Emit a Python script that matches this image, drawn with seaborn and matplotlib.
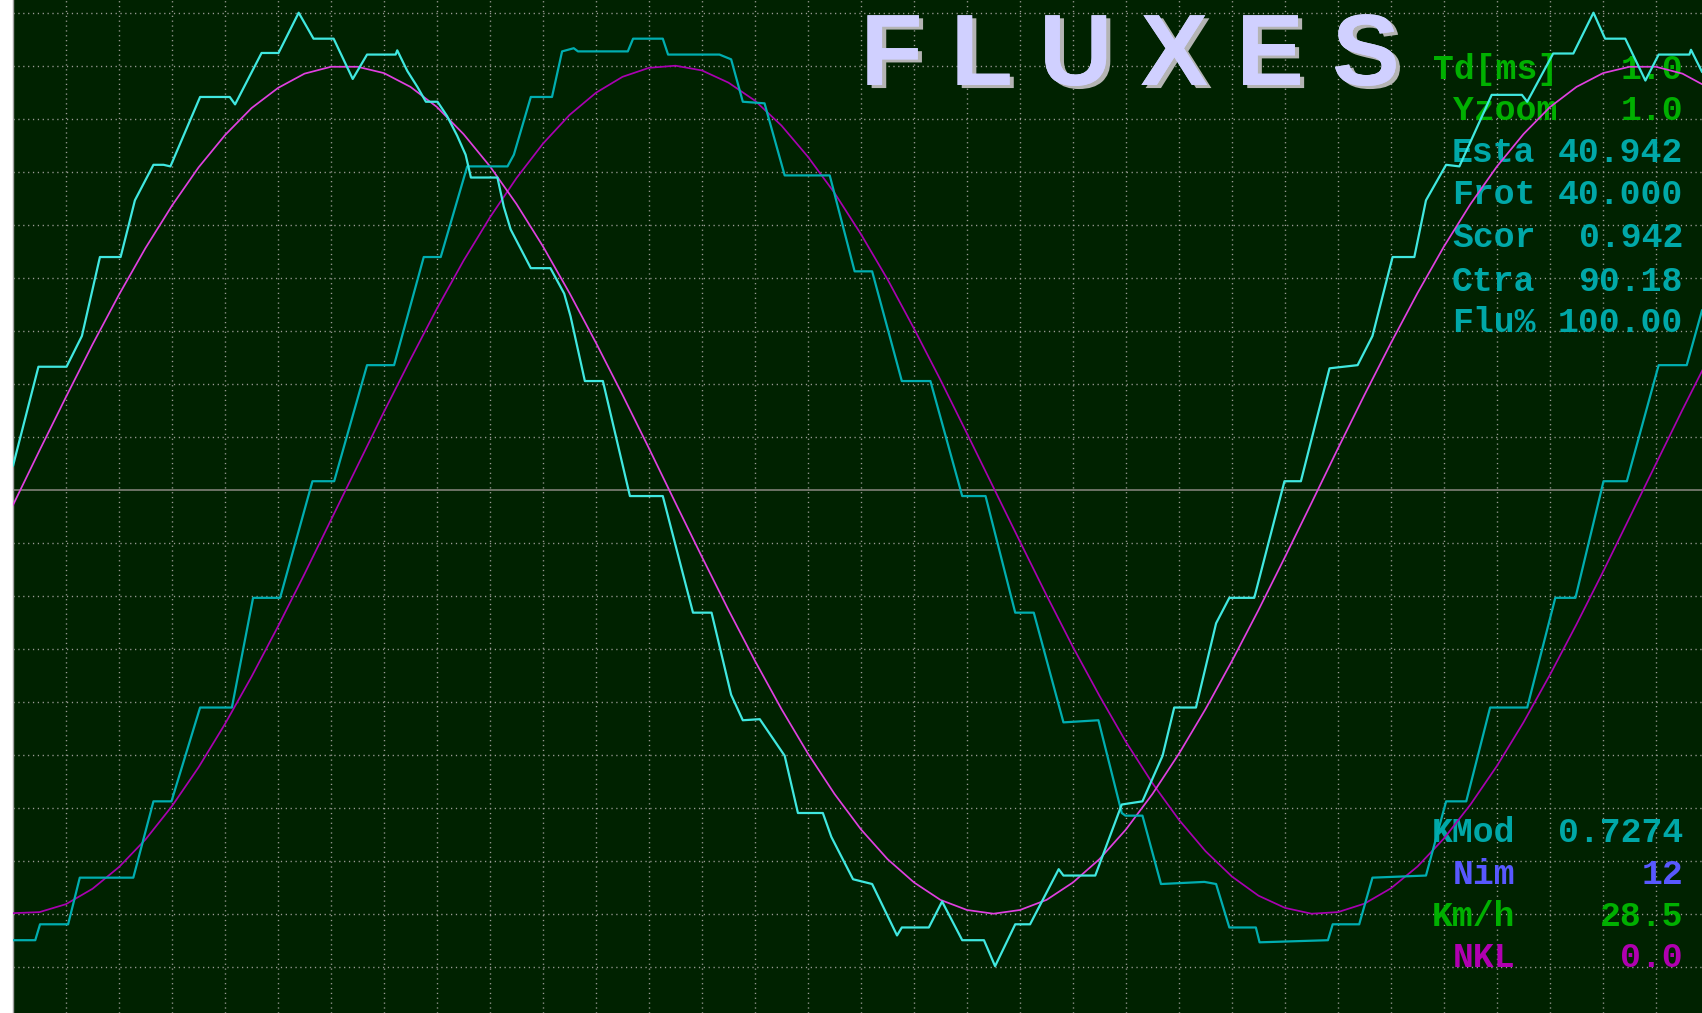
import numpy as np
import matplotlib
matplotlib.use("Agg")
import matplotlib.pyplot as plt
import matplotlib.patheffects as pe
import seaborn as sns

# ---- data (time in ms / grid divisions, flux in divisions) ----
# stepped flux, phase A (bright cyan)
fluxA_t = [0.00, 0.48, 1.01, 1.30, 1.64, 2.03, 2.18, 2.30, 2.65, 2.84, 2.97, 3.53, 4.09, 4.19, 4.69,
           5.01, 5.39, 5.67, 6.05, 6.41, 6.68, 7.22, 7.25, 7.44, 7.63, 7.79, 8.01, 8.19, 8.38, 8.54,
           8.64, 9.14, 9.26, 9.39, 9.77, 10.14, 10.40, 10.52, 10.79, 11.13, 11.64, 12.26, 12.83, 13.18, 13.55,
           13.77, 14.09, 14.56, 14.81, 15.28, 15.44, 15.85, 16.21, 16.68, 16.77, 17.28, 17.53, 17.91, 18.32, 18.53,
           18.91, 19.19, 19.73, 19.82, 20.42, 20.92, 21.31, 21.69, 21.91, 22.32, 22.70, 22.95, 23.42, 23.99, 24.30,
           24.84, 25.37, 25.65, 26.03, 26.44, 26.66, 27.04, 27.29, 27.90, 28.47, 28.57, 29.06, 29.44, 29.82, 30.04,
           30.42, 30.80, 31.05, 31.63, 31.66, 31.87]
fluxA_y = [0.45, 2.32, 2.32, 2.90, 4.39, 4.39, 4.98, 5.46, 6.13, 6.13, 6.10, 7.41, 7.41, 7.27, 8.24,
           8.24, 9.00, 8.51, 8.51, 7.75, 8.21, 8.21, 8.29, 7.90, 7.60, 7.32, 7.32, 7.05, 6.68, 6.32,
           5.89, 5.89, 5.34, 4.91, 4.18, 4.18, 3.70, 3.27, 2.05, 2.05, -0.12, -0.12, -2.32, -2.32, -3.87,
           -4.35, -4.33, -5.02, -6.10, -6.10, -6.55, -7.35, -7.44, -8.41, -8.26, -8.26, -7.77, -8.50, -8.50, -8.99,
           -8.20, -8.20, -7.16, -7.28, -7.28, -5.94, -5.88, -5.02, -4.11, -4.11, -2.52, -2.04, -2.04, 0.16, 0.16,
           2.29, 2.35, 2.90, 4.39, 4.39, 5.46, 6.13, 6.10, 7.45, 7.45, 7.32, 8.23, 8.23, 9.00, 8.51,
           8.51, 7.72, 8.21, 8.21, 8.30, 7.88]

# stepped flux, phase B (teal)
fluxB_t = [0.00, 0.42, 0.51, 1.04, 1.26, 2.27, 2.65, 2.99, 3.53, 4.13, 4.53, 5.04, 5.65, 6.06, 6.68,
           7.19, 7.75, 8.07, 8.57, 9.33, 9.45, 9.77, 10.17, 10.36, 10.58, 10.66, 11.60, 11.70, 12.26, 12.36,
           13.33, 13.55, 13.77, 14.18, 14.56, 15.41, 15.88, 16.21, 16.77, 17.31, 17.91, 18.35, 18.91, 19.26, 19.82,
           20.48, 20.92, 20.99, 21.31, 21.66, 22.48, 22.70, 22.95, 23.45, 23.52, 24.81, 24.90, 25.40, 25.65, 26.66,
           27.04, 27.42, 27.87, 28.57, 29.10, 29.48, 30.01, 30.45, 31.05, 31.58, 31.87]
fluxB_y = [-8.50, -8.50, -8.20, -8.20, -7.32, -7.32, -5.88, -5.88, -4.11, -4.11, -2.04, -2.04, 0.16, 0.16, 2.35,
           2.35, 4.39, 4.39, 6.10, 6.10, 6.32, 7.41, 7.41, 8.27, 8.33, 8.27, 8.27, 8.51, 8.51, 8.21,
           8.21, 8.12, 7.32, 7.29, 5.93, 5.93, 4.12, 4.12, 2.05, 2.05, -0.12, -0.12, -2.32, -2.32, -4.39,
           -4.35, -6.10, -6.15, -6.15, -7.44, -7.40, -7.44, -8.26, -8.26, -8.54, -8.50, -8.20, -8.20, -7.32, -7.28,
           -5.88, -5.88, -4.11, -4.11, -2.04, -2.04, 0.16, 0.16, 2.35, 2.35, 3.39]

# reference (ideal) fluxes, sampled every half division
ref_t = np.arange(0, 32.5, 0.5)
refA = [-0.29, 0.74, 1.75, 2.74, 3.68, 4.56, 5.36, 6.08, 6.69, 7.20, 7.58, 7.85, 7.98, 7.98, 7.86, 7.60,
        7.22, 6.71, 6.10, 5.39, 4.59, 3.71, 2.77, 1.79, 0.78, -0.25, -1.27, -2.27, -3.23, -4.14, -4.98, -5.74,
        -6.41, -6.97, -7.41, -7.74, -7.93, -8.00, -7.93, -7.74, -7.41, -6.97, -6.41, -5.74, -4.98, -4.14, -3.23,
        -2.27, -1.27, -0.25, 0.78, 1.79, 2.77, 3.71, 4.59, 5.39, 6.10, 6.71, 7.22, 7.60, 7.86, 7.98, 7.98,
        7.85, 7.58]
refB = [-7.99, -7.97, -7.82, -7.53, -7.12, -6.60, -5.97, -5.24, -4.42, -3.53, -2.58, -1.59, -0.57, 0.45, 1.47,
        2.46, 3.42, 4.32, 5.14, 5.88, 6.53, 7.07, 7.49, 7.79, 7.96, 8.00, 7.91, 7.68, 7.34, 6.87, 6.28, 5.60,
        4.82, 3.97, 3.04, 2.07, 1.06, 0.04, -0.98, -1.99, -2.97, -3.89, -4.76, -5.54, -6.23, -6.82, -7.30,
        -7.66, -7.89, -8.00, -7.97, -7.81, -7.52, -7.11, -6.58, -5.94, -5.21, -4.39, -3.49, -2.54, -1.55, -0.53,
        0.49, 1.51, 2.50]

# readout panels: (label, value)
top_labels = ["Td[ms]", "Yzoom", "Esta", "Frot", "Scor", "Ctra", "Flu%"]
top_values = ["1.0", "1.0", "40.942", "40.000", "0.942", "90.18", "100.00"]
bottom_labels = ["KMod", "Nim", "Km/h", "NKL"]
bottom_values = ["0.7274", "12", "28.5", "0.0"]
title = "FLUXES"

# ---- styling ----
W, H = 1702, 1013
BG = "#002200"
GRID = "#9a9a94"
C_A, C_B = "#40E8E0", "#00AEB0"
M_A, M_B = "#E040E0", "#A800B0"
GREEN, TEAL, BLUE, PURPLE = "#00B000", "#00A8A8", "#5858FF", "#B000B0"

sns.set_style("dark", {"axes.facecolor": BG, "figure.facecolor": "white"})

fig = plt.figure(figsize=(W / 100, H / 100), dpi=100)
ax = fig.add_axes([13 / W, 0, (W - 13) / W, 1])
ax.set_facecolor(BG)

px = 53.0  # pixels per division
ax.set_xlim(0, (W - 13) / px)
ax.set_ylim(-(H - 489.7) / px, 489.7 / px)

# dotted graticule + solid centre line
dots = (0, (0.9, 2.6))
for gx in range(1, 32):
    ax.axvline(gx, color=GRID, lw=1.0, ls=dots, zorder=1)
for gy in range(-9, 10):
    if gy != 0:
        ax.axhline(gy, color=GRID, lw=1.0, ls=dots, zorder=1)
ax.axhline(0, color="#808078", lw=1.2, zorder=1)

ax.set_xticks([])
ax.set_yticks([])
for name, sp in ax.spines.items():
    sp.set_visible(name == "left")
ax.spines["left"].set_color("#a0a0a0")
ax.spines["left"].set_linewidth(1.0)

# traces
sns.lineplot(x=ref_t, y=refB, ax=ax, color=M_B, lw=1.25, estimator=None, sort=False, zorder=4)
sns.lineplot(x=ref_t, y=refA, ax=ax, color=M_A, lw=1.25, estimator=None, sort=False, zorder=4)
sns.lineplot(x=fluxB_t, y=fluxB_y, ax=ax, color=C_B, lw=1.6, estimator=None, sort=False, zorder=5)
sns.lineplot(x=fluxA_t, y=fluxA_y, ax=ax, color=C_A, lw=1.6, estimator=None, sort=False, zorder=5)
ax.set_xlabel("")
ax.set_ylabel("")


def fpos(x, y):
    return x / W, 1 - y / H


mono = dict(family="Liberation Mono", weight="bold", fontsize=25)

top_rows = [68.3, 110.0, 151.7, 193.3, 236.7, 280.0, 321.7]
top_x = [1433, 1453, 1452, 1452, 1452, 1452, 1452]
top_col = [GREEN, GREEN, TEAL, TEAL, TEAL, TEAL, TEAL]
for lab, val, yc, xl, col in zip(top_labels, top_values, top_rows, top_x, top_col):
    ax.text(*fpos(xl, yc + 10.5), lab, transform=fig.transFigure, color=col,
            ha="left", va="baseline", zorder=3, clip_on=False, **mono)
    ax.text(*fpos(1683, yc + 10.5), val, transform=fig.transFigure, color=col,
            ha="right", va="baseline", zorder=3, clip_on=False, **mono)

bot_rows = [831.7, 873.3, 915.0, 956.7]
bot_x = [1432, 1453, 1432, 1453]
bot_col = [TEAL, BLUE, GREEN, PURPLE]
for lab, val, yc, xl, col in zip(bottom_labels, bottom_values, bot_rows, bot_x, bot_col):
    ax.text(*fpos(xl, yc + 10.5), lab, transform=fig.transFigure, color=col,
            ha="left", va="baseline", zorder=3, clip_on=False, **mono)
    ax.text(*fpos(1683, yc + 10.5), val, transform=fig.transFigure, color=col,
            ha="right", va="baseline", zorder=3, clip_on=False, **mono)

# spaced title with a drop shadow
spaced = " ".join(title)
ax.text(*fpos(1130, 85), spaced, color="#D0D0FF", zorder=9,
        family="Liberation Sans", weight="bold", fontsize=73, ha="center", va="baseline",
        transform=fig.transFigure, clip_on=False,
        path_effects=[pe.withSimplePatchShadow(offset=(3, -2.2), shadow_rgbFace="#b4b4b4", alpha=1.0),
                      pe.Normal()])

fig.savefig("out.png", dpi=100, facecolor="white")
